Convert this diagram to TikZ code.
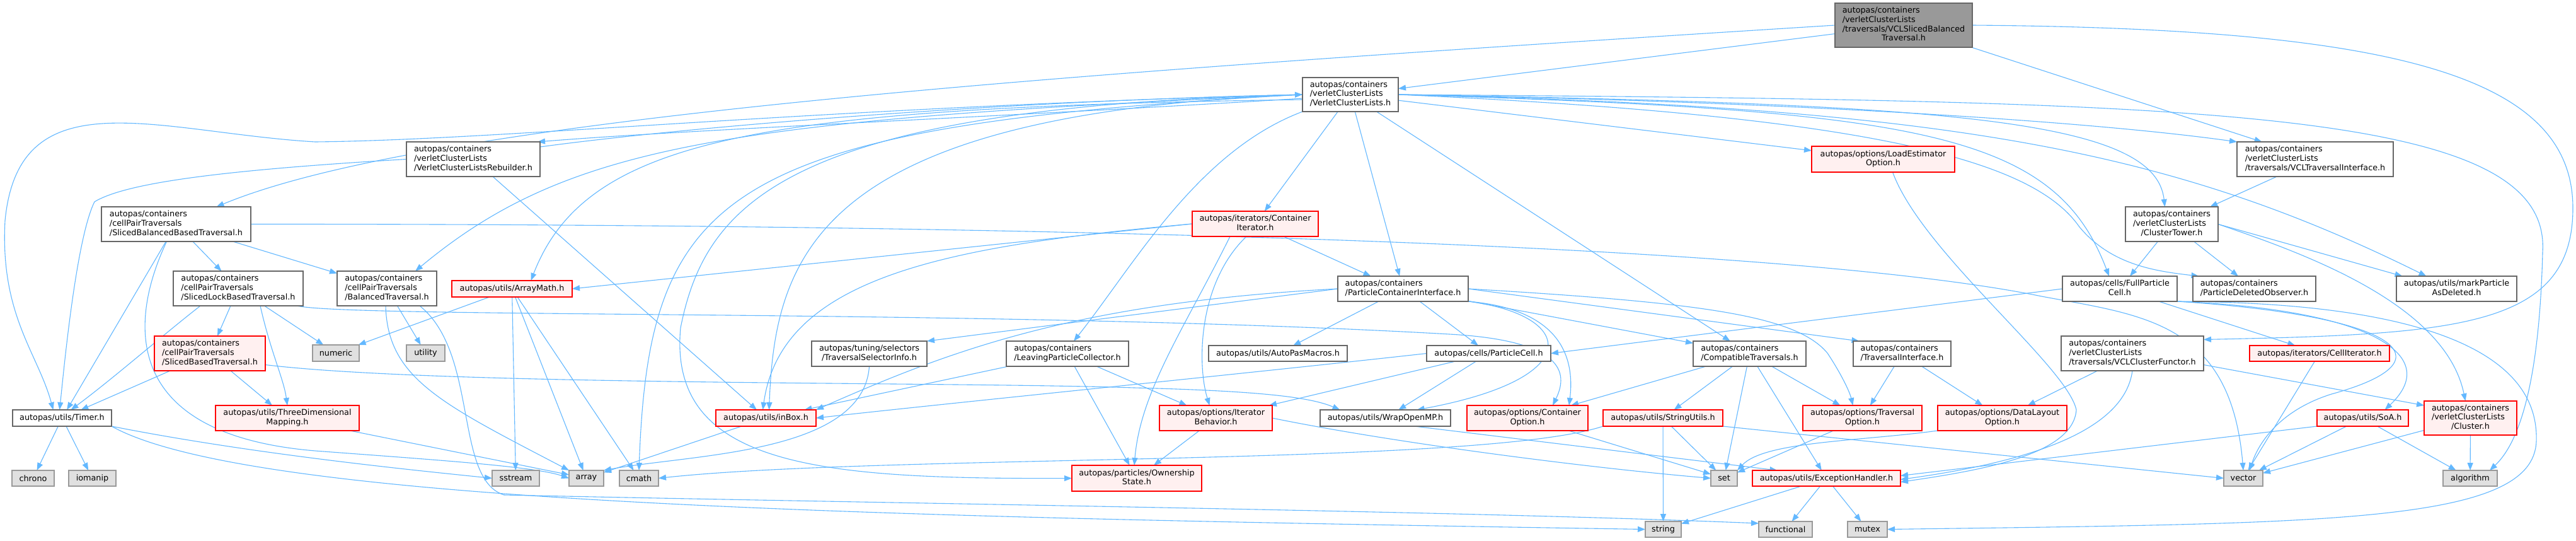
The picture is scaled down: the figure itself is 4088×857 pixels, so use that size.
\documentclass[tikz,border=0pt]{standalone}
\usepackage{fontspec}
\usetikzlibrary{arrows.meta}
\newfontfamily\dvs{DejaVu Sans}
\newcommand\nodefont{\dvs\fontsize{12.8}{14.7}\selectfont}
\newcommand\Lt[1]{\begin{tabular}{@{}l@{}}#1\end{tabular}}
\newcommand\Ct[1]{\begin{tabular}{@{}c@{}}#1\end{tabular}}
\newcommand\Ce[1]{\multicolumn{1}{@{}c@{}}{#1}}
\definecolor{edgec}{HTML}{63B8FF}
\definecolor{redfill}{HTML}{FFF0F0}
\definecolor{grayfill}{HTML}{E0E0E0}
\definecolor{graydraw}{HTML}{999999}
\definecolor{rootfill}{HTML}{999999}
\definecolor{rootdraw}{HTML}{666666}
\definecolor{wdraw}{HTML}{666666}
\pgfdeclarelayer{bg}
\pgfdeclarelayer{paper}
\pgfsetlayers{paper,bg,main}
\newcommand\mk[7]{\node[#2, minimum width={#5pt-#3pt}, minimum height={#6pt-#4pt}] (#1) at ({(#3+#5)/2},{(#4+#6)/2}) {#7};}
\tikzset{
 bx/.style={rectangle, inner sep=0pt, outer sep=0pt, font=\nodefont, text=black, line width=1.3pt},
 wn/.style={bx, draw=wdraw, fill=white},
 rn/.style={bx, draw=red, fill=redfill},
 gn/.style={bx, draw=graydraw, fill=grayfill},
 rootn/.style={bx, draw=rootdraw, fill=rootfill},
 ed/.style={draw=edgec, line width=1.1pt, -{Triangle[length=12pt,width=9pt]}},
}
\begin{document}
\begin{tikzpicture}[x=1pt,y=-1pt]
\begin{pgfonlayer}{paper}
\fill[white] (0,0) rectangle (4088,857);
\end{pgfonlayer}
\useasboundingbox (0,0) rectangle (4088,857);
\mk{root}{rootn}{2912}{5}{3130}{75}{\Lt{autopas/containers\\/verletClusterLists\\/traversals/VCLSlicedBalanced\\\Ce{Traversal.h}}}
\mk{vcl}{wn}{2067}{123}{2219}{177}{\Lt{autopas/containers\\/verletClusterLists\\/VerletClusterLists.h}}
\mk{reb}{wn}{645}{225}{857}{280}{\Lt{autopas/containers\\/verletClusterLists\\/VerletClusterListsRebuilder.h}}
\mk{vti}{wn}{3550}{225}{3798}{280}{\Lt{autopas/containers\\/verletClusterLists\\/traversals/VCLTraversalInterface.h}}
\mk{leo}{rn}{2875}{232}{3102}{273}{\Ct{autopas/options/LoadEstimator\\Option.h}}
\mk{sbb}{wn}{161}{328}{398}{383}{\Lt{autopas/containers\\/cellPairTraversals\\/SlicedBalancedBasedTraversal.h}}
\mk{slb}{wn}{275}{430}{481}{485}{\Lt{autopas/containers\\/cellPairTraversals\\/SlicedLockBasedTraversal.h}}
\mk{bal}{wn}{535}{430}{693}{485}{\Lt{autopas/containers\\/cellPairTraversals\\/BalancedTraversal.h}}
\mk{am}{rn}{717}{445}{908}{471}{autopas/utils/ArrayMath.h}
\mk{sbt}{rn}{245}{533}{421}{588}{\Lt{autopas/containers\\/cellPairTraversals\\/SlicedBasedTraversal.h}}
\mk{num}{gn}{496}{547}{570}{573}{numeric}
\mk{util}{gn}{645}{547}{706}{573}{utility}
\mk{timer}{wn}{20}{650}{177}{676}{autopas/utils/Timer.h}
\mk{tdm}{rn}{342}{643}{570}{683}{\Ct{autopas/utils/ThreeDimensional\\Mapping.h}}
\mk{chrono}{gn}{19}{746}{86}{771}{chrono}
\mk{iomanip}{gn}{109}{746}{184}{771}{iomanip}
\mk{sstream}{gn}{781}{746}{856}{771}{sstream}
\mk{arr}{gn}{903}{746}{958}{771}{array}
\mk{cmath}{gn}{983}{746}{1045}{771}{cmath}
\mk{ci}{rn}{1892}{335}{2092}{375}{\Ct{autopas/iterators/Container\\Iterator.h}}
\mk{tsi}{wn}{1288}{541}{1471}{581}{\Lt{autopas/tuning/selectors\\\Ce{/TraversalSelectorInfo.h}}}
\mk{lpc}{wn}{1597}{541}{1791}{581}{\Lt{autopas/containers\\/LeavingParticleCollector.h}}
\mk{apm}{wn}{1918}{548}{2138}{573}{autopas/utils/AutoPasMacros.h}
\mk{pci}{wn}{2123}{438}{2330}{478}{\Lt{autopas/containers\\/ParticleContainerInterface.h}}
\mk{pc}{wn}{2264}{548}{2461}{573}{autopas/cells/ParticleCell.h}
\mk{ct}{wn}{2687}{541}{2866}{581}{\Lt{autopas/containers\\/CompatibleTraversals.h}}
\mk{ti}{wn}{2941}{541}{3096}{581}{\Lt{autopas/containers\\/TraversalInterface.h}}
\mk{tower}{wn}{3373}{328}{3520}{383}{\Lt{autopas/containers\\/verletClusterLists\\\Ce{/ClusterTower.h}}}
\mk{fpc}{wn}{3273}{438}{3455}{478}{\Ct{autopas/cells/FullParticle\\Cell.h}}
\mk{pdo}{wn}{3480}{438}{3675}{478}{\Lt{autopas/containers\\/ParticleDeletedObserver.h}}
\mk{mpd}{wn}{3803}{438}{3994}{478}{\Ct{autopas/utils/markParticle\\AsDeleted.h}}
\mk{vcf}{wn}{3271}{533}{3497}{588}{\Lt{autopas/containers\\/verletClusterLists\\/traversals/VCLClusterFunctor.h}}
\mk{cit}{rn}{3570}{548}{3792}{573}{autopas/iterators/CellIterator.h}
\mk{inbox}{rn}{1136}{650}{1295}{676}{autopas/utils/inBox.h}
\mk{ib}{rn}{1840}{643}{2019}{683}{\Ct{autopas/options/Iterator\\Behavior.h}}
\mk{os}{rn}{1701}{738}{1907}{779}{\Ct{autopas/particles/Ownership\\State.h}}
\mk{womp}{wn}{2095}{650}{2302}{676}{autopas/utils/WrapOpenMP.h}
\mk{co}{rn}{2328}{643}{2520}{683}{\Ct{autopas/options/Container\\Option.h}}
\mk{su}{rn}{2544}{650}{2734}{676}{autopas/utils/StringUtils.h}
\mk{tro}{rn}{2861}{643}{3050}{683}{\Ct{autopas/options/Traversal\\Option.h}}
\mk{setn}{gn}{2715}{746}{2757}{771}{set}
\mk{eh}{rn}{2781}{746}{3016}{771}{autopas/utils/ExceptionHandler.h}
\mk{strn}{gn}{2611}{827}{2668}{852}{string}
\mk{func}{gn}{2791}{827}{2876}{852}{functional}
\mk{mutex}{gn}{2932}{827}{2995}{852}{mutex}
\mk{dlo}{rn}{3075}{643}{3280}{683}{\Ct{autopas/options/DataLayout\\Option.h}}
\mk{soa}{rn}{3677}{650}{3822}{676}{autopas/utils/SoA.h}
\mk{cluster}{rn}{3847}{636}{3994}{690}{\Lt{autopas/containers\\/verletClusterLists\\\Ce{/Cluster.h}}}
\mk{vect}{gn}{3529}{746}{3591}{771}{vector}
\mk{algo}{gn}{3877}{746}{3963}{771}{algorithm}

\begin{pgfonlayer}{bg}
% root
\draw[ed] (root) -- (vcl);
\draw[ed] (root.west) .. controls (1800,110) and (700,180) .. ([xshift=64pt]sbb.north);
\draw[ed] (root) -- (vti);
\draw[ed] (root.east) .. controls (3800,45) and (4083,120) .. (4083,330) .. controls (4083,520) and (3900,530) .. ([yshift=22pt]vcf.east);
% vcl
\draw[ed] ([yshift=-6pt]vcl.west) .. controls (1600,185) and (1100,205) .. ([xshift=-4pt]reb.north east);
\draw[ed] ([yshift=-8pt]reb.north east) .. controls (1100,200) and (1600,160) .. (vcl.west);
\draw[ed] (vcl.west) .. controls (1300,170) and (800,222) .. (500,225) .. controls (250,210) and (30,120) .. (8,350) .. controls (0,500) and (60,560) .. ([xshift=-14pt]timer.north);
\draw[ed] ([yshift=-8pt]vcl.west) .. controls (1200,170) and (930,220) .. ([xshift=30pt]am.north);
\draw[ed] (vcl.west) .. controls (1150,190) and (900,230) .. ([xshift=45pt]bal.north);
\draw[ed] (vcl.west) .. controls (1150,200) and (1030,300) .. (cmath.north);
\draw[ed] (vcl.west) .. controls (1300,180) and (1230,400) .. ([xshift=5pt]inbox.north);
\draw[ed] (vcl.west) .. controls (1250,170) and (1120,320) .. (1080,520) .. controls (1060,740) and (1300,760) .. (os.west);
\draw[ed] (vcl) -- (ci);
\draw[ed] (vcl) -- (pci);
\draw[ed] (vcl.south west) .. controls (1900,240) and (1800,420) .. ([xshift=10pt]lpc.north);
\draw[ed] (vcl) -- (ct);
\draw[ed] (vcl) -- (leo);
\draw[ed] (vcl.east) .. controls (2800,160) and (3300,190) .. (vti.north west);
\draw[ed] (vcl.east) .. controls (3100,165) and (3420,190) .. ([xshift=-11pt]tower.north);
\draw[ed] (vcl.east) .. controls (3050,175) and (3260,210) .. ([xshift=-17pt]fpc.north);
\draw[ed] (vcl.east) .. controls (3000,185) and (3230,260) .. (3300,360) .. controls (3350,420) and (3420,430) .. ([xshift=-88pt]pdo.north);
\draw[ed] (vcl.east) .. controls (3100,170) and (3450,240) .. ([xshift=-48pt]mpd.north);
\draw[ed] (vcl.east) .. controls (3500,160) and (4050,170) .. (4035,400) .. controls (4030,600) and (4000,700) .. ([xshift=31pt]algo.north);
% reb
\draw[ed] (reb.west) .. controls (350,270) and (200,290) .. (150,320) .. controls (120,380) and (100,600) .. ([xshift=-4pt]timer.north);
\draw[ed] (reb) -- (inbox);
% leo
\draw[ed] ([xshift=15pt]leo.south) .. controls (3050,400) and (3280,580) .. (3295,650) .. controls (3290,720) and (3150,745) .. ([yshift=-6pt]eh.east);
% sbb
\draw[ed] (sbb) -- (slb);
\draw[ed] (sbb) -- (bal);
\draw[ed] (sbb) -- (timer);
\draw[ed] ([xshift=-15pt]sbb.south) .. controls (200,520) and (200,690) .. (500,715) .. controls (700,730) and (850,740) .. (arr.west);
\draw[ed] (sbb.east) .. controls (1500,355) and (2800,380) .. (3240,470) .. controls (3400,500) and (3540,510) .. (vect.north);
% slb
\draw[ed] (slb) -- (sbt);
\draw[ed] ([xshift=-60pt]slb.south) .. controls (260,530) and (180,600) .. ([xshift=14pt]timer.north);
\draw[ed] (slb) -- (num);
\draw[ed] ([xshift=35pt]slb.south) .. controls (430,560) and (450,600) .. (tdm.north);
\draw[ed] ([xshift=-10pt]slb.south east) .. controls (560,505) and (1600,490) .. (2300,530) .. controls (2480,540) and (2490,590) .. ([xshift=40pt]co.north);
% bal
\draw[ed] (bal) -- (util);
\draw[ed] ([xshift=52pt]bal.south) .. controls (760,560) and (720,760) .. (800,785) .. controls (1500,800) and (2300,810) .. ([yshift=-3pt]func.north west);
\draw[ed] ([xshift=-2pt]bal.south) .. controls (615,600) and (700,640) .. (arr.north west);
% am
\draw[ed] (am) -- (num);
\draw[ed] (am) -- (sstream);
\draw[ed] (am) -- (arr);
\draw[ed] (am) -- (cmath);
% sbt
\draw[ed] (sbt) -- (timer);
\draw[ed] (sbt) -- (tdm);
\draw[ed] ([yshift=-18pt]sbt.east) .. controls (700,612) and (1500,605) .. (1800,615) .. controls (2000,620) and (2080,630) .. ([xshift=-72pt]womp.north);
% timer
\draw[ed] (timer) -- (chrono);
\draw[ed] (timer) -- (iomanip);
\draw[ed] (timer.south east) .. controls (400,720) and (650,745) .. (sstream.west);
\draw[ed] (timer.south east) .. controls (400,800) and (1400,820) .. (strn.west);
% tdm
\draw[ed] (tdm) -- (arr);
% ci
\draw[ed] ([xshift=45pt]ci.south) -- ([xshift=-51pt]pci.north);
\draw[ed] (ci.west) -- (am.east);
\draw[ed] (ci.west) .. controls (1500,390) and (1240,440) .. ([xshift=-5pt]inbox.north);
\draw[ed] ([xshift=-14pt]ci.south) .. controls (1900,450) and (1900,580) .. ([xshift=-10pt]ib.north);
\draw[ed] ([xshift=-40pt]ci.south) .. controls (1880,520) and (1810,620) .. ([xshift=-4pt]os.north);
% pci
\draw[ed] (pci) -- (apm);
\draw[ed] (pci) -- (pc);
\draw[ed] (pci) -- (ct);
\draw[ed] (pci.east) -- ([xshift=-68pt]ti.north);
\draw[ed] (pci.west) -- (tsi.north east);
\draw[ed] (pci.south east) .. controls (2470,490) and (2500,560) .. ([xshift=66pt]co.north);
\draw[ed] (pci.south east) .. controls (2500,500) and (2520,600) .. ([xshift=50pt]womp.north);
\draw[ed] (pci.west) .. controls (1700,480) and (1500,560) .. (inbox.north east);
\draw[ed] (pci.east) .. controls (2700,480) and (2850,500) .. (2900,560) .. controls (2920,590) and (2935,620) .. ([xshift=-15pt]tro.north);
% tsi, lpc
\draw[ed] (tsi.south) .. controls (1370,720) and (1100,720) .. (arr.north east);
\draw[ed] (lpc) -- (inbox);
\draw[ed] (lpc) -- (ib);
\draw[ed] (lpc) -- (os);
% pc
\draw[ed] (pc) -- (ib);
\draw[ed] (pc) -- (womp);
\draw[ed] (pc.west) .. controls (2000,590) and (1500,640) .. (inbox.east);
% ct, ti
\draw[ed] (ct) -- (co);
\draw[ed] (ct) -- (su);
\draw[ed] (ct) -- (setn);
\draw[ed] (ct) -- (eh);
\draw[ed] (ct) -- (tro);
\draw[ed] (ti) -- (tro);
\draw[ed] (ti) -- (dlo);
% tower, vti
\draw[ed] (vti) -- (tower);
\draw[ed] (tower) -- (fpc);
\draw[ed] (tower) -- (pdo);
\draw[ed] (tower.east) -- ([xshift=-86pt]mpd.north);
\draw[ed] (tower.east) .. controls (3650,400) and (3880,480) .. ([xshift=-8pt]cluster.north);
% fpc
\draw[ed] (fpc.west) -- (pc.east);
\draw[ed] (fpc) -- (cit);
\draw[ed] (fpc.south east) .. controls (3750,490) and (3880,560) .. ([xshift=35pt]soa.north);
\draw[ed] (fpc.south east) .. controls (3800,500) and (3900,570) .. (3700,625) .. controls (3620,650) and (3585,700) .. ([xshift=10pt]vect.north);
\draw[ed] (fpc.south east) .. controls (3850,480) and (4030,560) .. (4025,700) .. controls (4020,830) and (3700,830) .. (mutex.east);
% vcf
\draw[ed] (vcf) -- (dlo);
\draw[ed] (vcf.south) .. controls (3370,690) and (3200,735) .. ([yshift=-2pt]eh.east);
\draw[ed] ([yshift=-18pt]vcf.east) -- ([yshift=20pt]cluster.west);
% misc
\draw[ed] (cit) -- (vect);
\draw[ed] (inbox) -- (arr);
\draw[ed] (ib) -- (os);
\draw[ed] (ib.east) .. controls (2200,700) and (2500,740) .. (setn.west);
\draw[ed] (co) -- (setn);
\draw[ed] (tro) -- (setn);
\draw[ed] (dlo.south west) .. controls (2950,700) and (2800,700) .. (setn.north east);
\draw[ed] (su) -- (setn);
\draw[ed] (su) -- (strn);
\draw[ed] (su.south west) .. controls (2350,740) and (1400,720) .. (cmath.east);
\draw[ed] (su.south east) -- (vect.west);
\draw[ed] (eh) -- (strn);
\draw[ed] (eh) -- (func);
\draw[ed] (eh) -- (mutex);
\draw[ed] ([xshift=46pt]womp.south) -- ([xshift=-78pt]eh.north);
\draw[ed] (soa) -- (vect);
\draw[ed] (soa) -- (algo);
\draw[ed] (soa.south west) -- ([yshift=4pt]eh.east);
\draw[ed] (cluster) -- (vect);
\draw[ed] (cluster) -- (algo);
\end{pgfonlayer}
\end{tikzpicture}
\end{document}
